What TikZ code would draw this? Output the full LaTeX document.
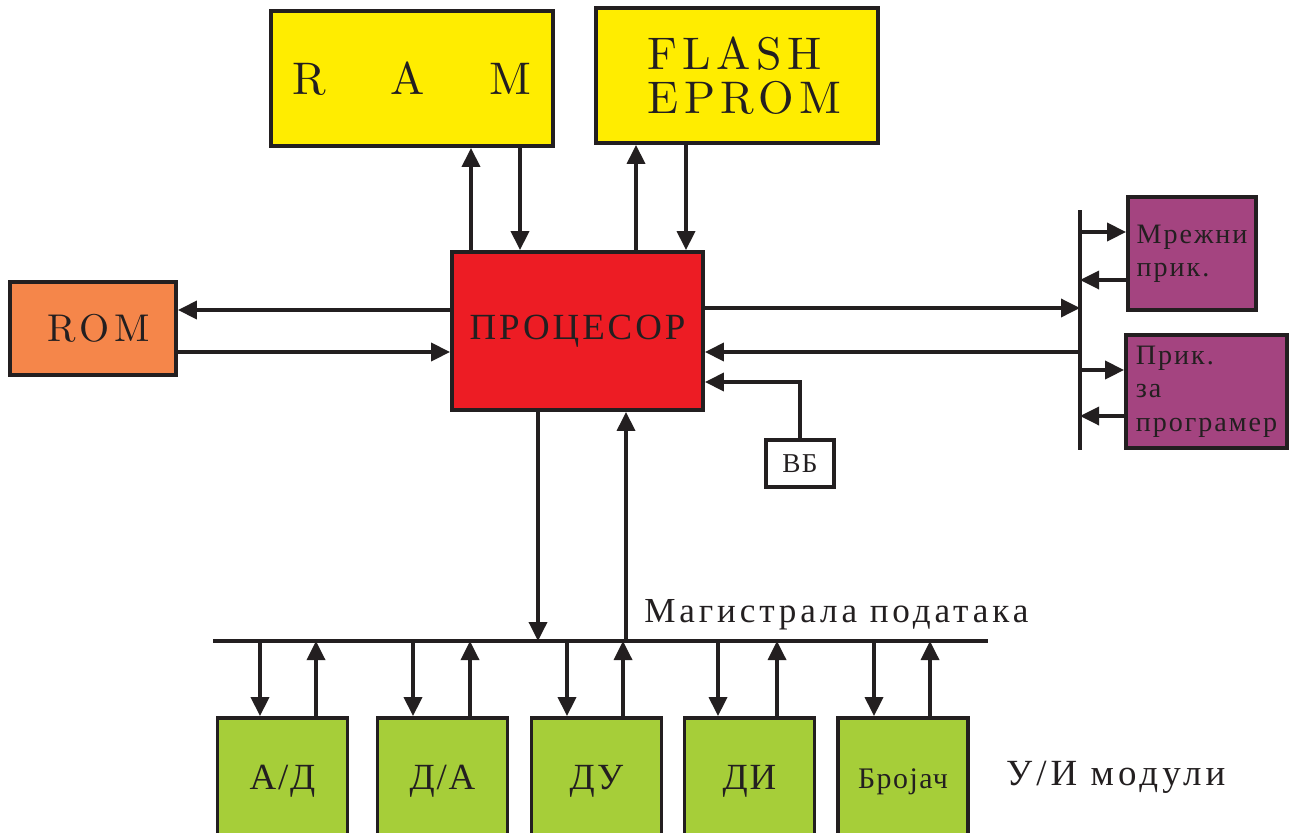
\documentclass[tikz,border=0pt]{standalone}
\usepackage{fontspec}
\usetikzlibrary{arrows.meta}
\newfontfamily\cmten[Extension=.otf]{lmroman10-regular}
\newfontfamily\cyr[LetterSpace=5]{Liberation Serif}
\newfontfamily\cyrsp[LetterSpace=11]{Liberation Serif}
\definecolor{linegray}{RGB}{35,31,32}
\definecolor{memyellow}{RGB}{255,237,0}
\definecolor{romorange}{RGB}{245,134,74}
\definecolor{procred}{RGB}{237,28,36}
\definecolor{perpurple}{RGB}{164,68,128}
\definecolor{iogreen}{RGB}{166,206,57}
\tikzset{
  blok/.style={draw=linegray, line width=2.2pt, inner sep=0pt, text=linegray},
  arr/.style={-{Triangle[length=0.38cm,width=0.36cm]}, line width=2pt, draw=linegray},
  busline/.style={line width=2.2pt, draw=linegray},
  iobox/.style={blok, fill=iogreen, minimum width=2.6cm, minimum height=2.54cm,
    font=\cyr\fontsize{21}{24}\selectfont},
  perbox/.style={blok, fill=perpurple, minimum height=2.26cm, align=left,
    font={\cyr\addfontfeature{LetterSpace=7}\fontsize{16}{19}\selectfont}},
}

\begin{document}
\begin{tikzpicture}[x=0.02cm, y=-0.02cm]
        \useasboundingbox (0,0) rectangle (1293,832);

        % Block centres
        \coordinate (ram_c) at (412, 78.5);
        \coordinate (flash_c) at (737, 75.5);
        \coordinate (rom_c) at (93, 328.5);
        \coordinate (proc_c) at (577.5, 331);
        \coordinate (vb_c) at (800, 463.5);
        \coordinate (mreza_c) at (1192, 253.5);
        \coordinate (prog_c) at (1206.5, 391.5);

        % Bus end points
        \coordinate (rbus_top) at (1080, 210);
        \coordinate (rbus_bot) at (1080, 450);
        \coordinate (dbus_l) at (213, 641);
        \coordinate (dbus_r) at (988, 641);

        % Arrow rails
        \coordinate (ram_up) at (471, 0);
        \coordinate (ram_dn) at (520, 0);
        \coordinate (flash_up) at (636, 0);
        \coordinate (flash_dn) at (686, 0);
        \coordinate (proc_dn) at (538, 0);
        \coordinate (proc_up) at (626, 0);
        \coordinate (rom_in) at (0, 310);
        \coordinate (rom_out) at (0, 352);
        \coordinate (per_out) at (0, 308);
        \coordinate (per_in) at (0, 352);
        \coordinate (vb_in) at (0, 382);
        \coordinate (mreza_in) at (0, 232);
        \coordinate (mreza_out) at (0, 280);
        \coordinate (prog_in) at (0, 370);
        \coordinate (prog_out) at (0, 416);

        % Memories and processor
        \node[blok, fill=memyellow, minimum width=5.64cm, minimum height=2.7cm,
          font=\cmten\fontsize{26}{28}\selectfont] (ram) at (ram_c)
          {R\hspace{1.3cm}A\hspace{1.3cm}M};
        \node[blok, fill=memyellow, minimum width=5.64cm, minimum height=2.7cm, align=left,
          font={\cmten\addfontfeature{LetterSpace=12}\fontsize{26}{25}\selectfont}] (flash) at (flash_c)
          {\hspace*{0.3cm}FLASH\\\hspace*{0.3cm}EPROM};
        \node[blok, fill=romorange, minimum width=3.32cm, minimum height=1.86cm,
          font={\cmten\addfontfeature{LetterSpace=12}\fontsize{22}{24}\selectfont}] (rom) at (rom_c)
          {\hspace*{0.22cm}ROM};
        \node[blok, fill=procred, minimum width=5.02cm, minimum height=3.16cm,
          font={\cyr\addfontfeature{LetterSpace=8}\fontsize{21}{24}\selectfont}] (proc) at (proc_c)
          {ПРОЦЕСОР};
        \node[blok, fill=white, minimum width=1.36cm, minimum height=0.94cm,
          font=\cyr\fontsize{15.5}{18}\selectfont] (vb) at (vb_c) {ВБ};

        % Peripherals
        \node[perbox, minimum width=2.56cm] (mreza) at (mreza_c) {Мрежни\\прик.};
        \node[perbox, minimum width=3.22cm] (prog) at (prog_c) {Прик.\\за\\програмер};

        % I/O modules
        \node[iobox] (ad) at (282.5, 781.5) {А/Д};
        \node[iobox] (da) at (442.5, 781.5) {Д/А};
        \node[iobox] (du) at (596.5, 781.5) {ДУ};
        \node[iobox] (di) at (749.5, 781.5) {ДИ};
        \node[iobox, font=\cyr\fontsize{17}{20}\selectfont] (broj) at (903, 781.5) {Бројач};
        \node[anchor=west, text=linegray, font=\cyrsp\fontsize{21}{24}\selectfont] (iolabel)
          at (1000, 777) {У/И модули};

        % Memory connections
        \draw[arr] (proc.north -| ram_up) -- (ram.south -| ram_up);
        \draw[arr] (ram.south -| ram_dn) -- (proc.north -| ram_dn);
        \draw[arr] (proc.north -| flash_up) -- (flash.south -| flash_up);
        \draw[arr] (flash.south -| flash_dn) -- (proc.north -| flash_dn);
        \draw[arr] (proc.west |- rom_in) -- (rom.east |- rom_in);
        \draw[arr] (rom.east |- rom_out) -- (proc.west |- rom_out);

        % Peripheral bus
        \draw[busline] (rbus_top) -- (rbus_bot);
        \draw[arr] (proc.east |- per_out) -- (rbus_top |- per_out);
        \draw[arr] (rbus_top |- per_in) -- (proc.east |- per_in);
        \draw[arr] (vb.north) |- (proc.east |- vb_in);
        \draw[arr] (rbus_top |- mreza_in) -- (mreza.west |- mreza_in);
        \draw[arr] (mreza.west |- mreza_out) -- (rbus_top |- mreza_out);
        \draw[arr] (rbus_top |- prog_in) -- (prog.west |- prog_in);
        \draw[arr] (prog.west |- prog_out) -- (rbus_top |- prog_out);

        % Data bus
        \draw[busline] (dbus_l) -- (dbus_r);
        \node[anchor=south west, inner sep=0pt, text=linegray,
          font=\cyrsp\fontsize{20}{24}\selectfont] (dbus_label) at (644, 630)
          {Магистрала података};
        \draw[arr] (proc.south -| proc_dn) -- (dbus_l -| proc_dn);
        \draw[arr] (dbus_l -| proc_up) -- (proc.south -| proc_up);

        % Module connections
        \draw[arr] (dbus_l -| 260,0) -- (ad.north -| 260,0);
        \draw[arr] (ad.north -| 316,0) -- (dbus_l -| 316,0);
        \draw[arr] (dbus_l -| 413,0) -- (da.north -| 413,0);
        \draw[arr] (da.north -| 470,0) -- (dbus_l -| 470,0);
        \draw[arr] (dbus_l -| 567,0) -- (du.north -| 567,0);
        \draw[arr] (du.north -| 623,0) -- (dbus_l -| 623,0);
        \draw[arr] (dbus_l -| 718,0) -- (di.north -| 718,0);
        \draw[arr] (di.north -| 777,0) -- (dbus_l -| 777,0);
        \draw[arr] (dbus_l -| 874,0) -- (broj.north -| 874,0);
        \draw[arr] (broj.north -| 930,0) -- (dbus_l -| 930,0);
\end{tikzpicture}
\end{document}
